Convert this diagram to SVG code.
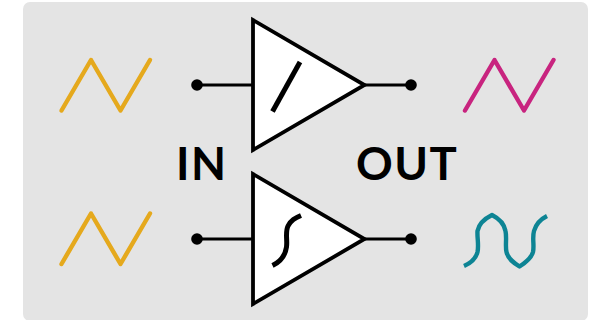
<svg xmlns="http://www.w3.org/2000/svg" width="593" height="320" viewBox="0 0 593 320">
<style>
.wave{fill:none;stroke-width:4.4;stroke-linecap:round;stroke-linejoin:round}
.tri{fill:#fff;stroke:#000;stroke-width:3.8;stroke-linejoin:miter}
.wire{fill:none;stroke:#000;stroke-width:3}
.glyph{fill:none;stroke:#000;stroke-width:5}
.lbl{font-family:"Lato","Liberation Sans",sans-serif;font-weight:700;font-size:45.5px;fill:#000}
</style>
<rect x="23" y="2" width="565" height="319" rx="7" fill="#e4e4e4"/>
<g id="connectors">
<path class="wire" d="M197 85H254"/><circle cx="197" cy="85" r="5.8"/>
<path class="wire" d="M364 85H411"/><circle cx="411" cy="85" r="5.8"/>
<path class="wire" d="M197 239H254"/><circle cx="197" cy="239" r="5.8"/>
<path class="wire" d="M364 239H411"/><circle cx="411" cy="239" r="5.8"/>
</g>
<g id="amp-linear">
<path class="tri" d="M253 20V150L364.500 85Z"/>
<path class="glyph" d="M272.500 111.500L300 62"/>
</g>
<g id="amp-soft">
<path class="tri" d="M253 174V304L364.500 239Z"/>
<path class="glyph" d="M272.500 265.500C280 262 285 257 286.500 247C287.500 240 285 232 288 226C291 220 295 218 301 215.500"/>
</g>
<g id="wave-in-top"><path class="wave" stroke="#e5a91d" d="M61.500 110.500L91 60L120.500 110.500L150 60"/></g>
<g id="wave-in-bottom"><path class="wave" stroke="#e5a91d" d="M61.500 264L91 213.500L120.500 264L150 213.500"/></g>
<g id="wave-out-top"><path class="wave" stroke="#c8247f" d="M465 110.500L494.500 60L524 110.500L553.500 60"/></g>
<g id="wave-out-bottom"><path class="wave" stroke="#0d8494" style="stroke-linecap:butt" d="M464 266C471 263 476 258 477.500 252C479 245 477 237 477.500 231C479 223 486 218 492 215C498 218 504 223 505.500 231C507 238 505 246 506.500 252C508 259 514 263 519.500 266.500C525 263 531 259 533 252C534.500 245 532 238 534 231C536 224 541 219 547 216"/></g>
<g id="label-in"><text class="lbl" x="176" y="180" letter-spacing="1.500">IN</text></g>
<g id="label-out"><text class="lbl" x="356" y="180" letter-spacing="1.500">OUT</text></g>
</svg>
